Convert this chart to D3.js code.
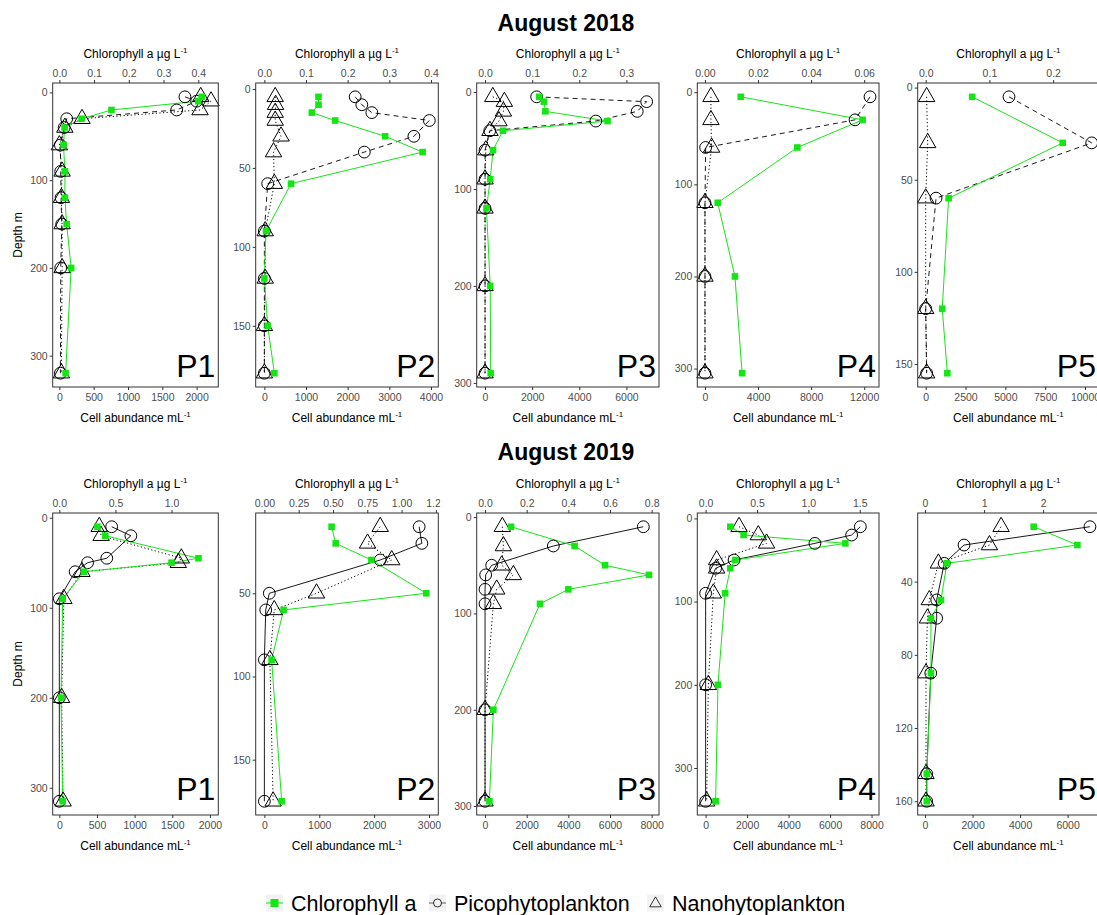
<!DOCTYPE html>
<html>
<head>
<meta charset="utf-8">
<script src="https://cdn.jsdelivr.net/npm/d3@7"></script>
<style>
  body { margin: 0; background: #fff; }
  text { font-family: "Liberation Sans", Arial, sans-serif; }
</style>
</head>
<body>
<div id="chart"></div>
<script>
// ---- August 2018 ----
const d18p1 = [5, 10, 20, 30, 40, 60, 90, 120, 150, 200, 320];
const chl18p1 = [0.41, 0.40, 0.15, 0.064, 0.015, 0.012, 0.016, 0.016, 0.021, 0.034, 0.018];
const pico18p1 = [1830, 2000, 1710, 107, 70, 15, 20, 25, 35, 20, 15];
const nano18p1 = [2060, 2210, 2050, 330, 80, 0, 40, 30, 40, 40, 30];

const d18p2 = [5, 10, 15, 20, 30, 40, 60, 90, 120, 150, 180];
const chl18p2 = [0.13, 0.13, 0.114, 0.17, 0.29, 0.38, 0.064, 0.004, 0.0, 0.008, 0.024];
const pico18p2 = [2180, 2340, 2580, 3960, 3590, 2400, 80, 0, 0, 0, 0];
const nano18p2 = [260, 270, 260, 260, 400, 220, 240, 20, 20, 0, 0];

const d18p3 = [5, 10, 20, 30, 40, 60, 90, 120, 200, 290];
const chl18p3 = [0.115, 0.125, 0.128, 0.26, 0.038, 0.017, 0.011, 0.003, 0.011, 0.012];
const pico18p3 = [2190, 6860, 6460, 4700, 200, 0, 0, 0, 0, 0];
const nano18p3 = [330, 820, 780, 590, 210, 30, 0, 0, 0, 0];

const d18p4 = [5, 30, 60, 120, 200, 305];
const chl18p4 = [0.0135, 0.0594, 0.0348, 0.0048, 0.0113, 0.014];
const pico18p4 = [12440, 11310, 50, 0, 0, 0];
const nano18p4 = [450, 450, 500, 0, 0, 0];

const d18p5 = [5, 30, 60, 120, 155];
const chl18p5 = [0.073, 0.215, 0.036, 0.026, 0.034];
const pico18p5 = [5230, 10420, 650, 0, 60];
const nano18p5 = [60, 125, 0, 0, 60];

// ---- August 2019 ----
const d19p1 = [10, 20, 45, 50, 60, 90, 200, 315];
const chl19p1 = [0.34, 0.41, 1.24, 1.0, 0.22, 0.03, 0.015, 0.03];
const pico19p1 = [695, 950, 630, 375, 210, 0, 0, 0];
const nano19p1 = [530, 555, 1620, 1580, 300, 60, 30, 50];

const d19p2 = [10, 20, 30, 50, 60, 90, 175];
const chl19p2 = [0.49, 0.52, 0.78, 1.18, 0.14, 0.053, 0.126];
const pico19p2 = [2820, 2870, 2110, 90, 25, 0, 0];
const nano19p2 = [2110, 1880, 2320, 950, 180, 100, 160];

const d19p3 = [10, 30, 50, 60, 75, 90, 200, 295];
const chl19p3 = [0.125, 0.43, 0.576, 0.787, 0.40, 0.264, 0.04, 0.021];
const pico19p3 = [7600, 3280, 320, 30, 0, 0, 0, 0];
const nano19p3 = [830, 880, 800, 1360, 560, 400, 0, 0];

const d19p4 = [10, 20, 30, 50, 60, 90, 200, 340];
const chl19p4 = [0.24, 0.37, 1.36, 0.29, 0.24, 0.19, 0.12, 0.097];
const pico19p4 = [7460, 7040, 5270, 1370, 480, 0, 0, 0];
const nano19p4 = [1610, 2540, 2940, 530, 530, 370, 130, 50];

const d19p5 = [10, 20, 30, 50, 60, 90, 145, 160];
const chl19p5 = [1.84, 2.58, 0.37, 0.27, 0.10, 0.10, 0.03, 0.03];
const pico19p5 = [6940, 1640, 810, 490, 490, 240, 70, 70];
const nano19p5 = [3200, 2710, 560, 180, 100, 40, 40, 40];

const legendLabels = ["Chlorophyll a", "Picophytoplankton", "Nanohytoplankton"];

const rows = [
  {
    title: "August 2018", titleY: 31, top: 83, bottom: 387, pBase: 377, picoDash: "5,4",
    panels: [
      { name: "P1", depth: d18p1, chl: chl18p1, pico: pico18p1, nano: nano18p1, k: 5060, cellDomain: [-97, 2316],
        cellTicks: [0, 500, 1000, 1500, 2000], chlTicks: [0, 0.1, 0.2, 0.3, 0.4], chlFmt: ".1f", depthTicks: [0, 100, 200, 300] },
      { name: "P2", depth: d18p2, chl: chl18p2, pico: pico18p2, nano: nano18p2, k: 10000, cellDomain: [-208, 4176],
        cellTicks: [0, 1000, 2000, 3000, 4000], chlTicks: [0, 0.1, 0.2, 0.3, 0.4], chlFmt: ".1f", depthTicks: [0, 50, 100, 150] },
      { name: "P3", depth: d18p3, chl: chl18p3, pico: pico18p3, nano: nano18p3, k: 20000, cellDomain: [-354, 7383],
        cellTicks: [0, 2000, 4000, 6000], chlTicks: [0, 0.1, 0.2, 0.3], chlFmt: ".1f", depthTicks: [0, 100, 200, 300] },
      { name: "P4", depth: d18p4, chl: chl18p4, pico: pico18p4, nano: nano18p4, k: 200000, cellDomain: [-578, 13116],
        cellTicks: [0, 4000, 8000, 12000], chlTicks: [0, 0.02, 0.04, 0.06], chlFmt: ".2f", depthTicks: [0, 100, 200, 300] },
      { name: "P5", depth: d18p5, chl: chl18p5, pico: pico18p5, nano: nano18p5, k: 40000, cellDomain: [-502, 10879],
        cellTicks: [0, 2500, 5000, 7500, 10000], chlTicks: [0, 0.1, 0.2], chlFmt: ".1f", depthTicks: [0, 50, 100, 150] }
    ]
  },
  {
    title: "August 2019", titleY: 460, top: 513, bottom: 815, pBase: 800, picoDash: null,
    panels: [
      { name: "P1", depth: d19p1, chl: chl19p1, pico: pico19p1, nano: nano19p1, k: 1490, cellDomain: [-88, 2111],
        cellTicks: [0, 500, 1000, 1500, 2000], chlTicks: [0, 0.5, 1.0], chlFmt: ".1f", depthTicks: [0, 100, 200, 300] },
      { name: "P2", depth: d19p2, chl: chl19p2, pico: pico19p2, nano: nano19p2, k: 2500, cellDomain: [-158, 3169],
        cellTicks: [0, 1000, 2000, 3000], chlTicks: [0, 0.25, 0.5, 0.75, 1.0, 1.25], chlFmt: ".2f", depthTicks: [50, 100, 150] },
      { name: "P3", depth: d19p3, chl: chl19p3, pico: pico19p3, nano: nano19p3, k: 10000, cellDomain: [-400, 8352],
        cellTicks: [0, 2000, 4000, 6000, 8000], chlTicks: [0, 0.2, 0.4, 0.6, 0.8], chlFmt: ".1f", depthTicks: [0, 100, 200, 300] },
      { name: "P4", depth: d19p4, chl: chl19p4, pico: pico19p4, nano: nano19p4, k: 4955, cellDomain: [-402, 8360],
        cellTicks: [0, 2000, 4000, 6000, 8000], chlTicks: [0, 0.5, 1.0, 1.5], chlFmt: ".1f", depthTicks: [0, 100, 200, 300] },
      { name: "P5", depth: d19p5, chl: chl19p5, pico: pico19p5, nano: nano19p5, k: 2485, cellDomain: [-309, 7321],
        cellTicks: [0, 2000, 4000, 6000], chlTicks: [0, 1, 2], chlFmt: "d", depthTicks: [40, 80, 120, 160] }
    ]
  }
];

const lefts = [52.7, 255.7, 476.7, 697.3, 917.7];
const rights = [218.3, 438.3, 659, 879, 1099];

const green = "#14e614";
const font = "'Liberation Sans', Arial, sans-serif";

const svg = d3.select("#chart")
    .append("svg")
    .attr("width", 1097)
    .attr("height", 915)
    .style("background", "#fff");

const defs = svg.append("defs");

const expand = ([a, b]) => { const m = (b - a) * 0.05; return [a - m, b + m]; };

// R pch 2 style triangle, centred on centroid
const triR = 6.1;
const triPath = `M0,${-triR * 1.555}L${triR * 1.347},${triR * 0.778}L${-triR * 1.347},${triR * 0.778}Z`;

function styleAxis(g) {
    g.select(".domain").remove();
    g.selectAll("line").attr("stroke", "#333");
    g.attr("font-family", font).attr("font-size", 10.5);
    g.selectAll("text").attr("fill", "#4d4d4d");
}

function supText(sel, main) {
    sel.append("tspan").text(main);
    sel.append("tspan").attr("dy", -5).attr("font-size", 8).text("-1");
}

rows.forEach((row, r) => {
    svg.append("text")
        .attr("x", 566).attr("y", row.titleY)
        .attr("text-anchor", "middle")
        .attr("font-size", 23).attr("font-weight", "bold")
        .text(row.title);

    row.panels.forEach((p, i) => {
        const left = lefts[i], right = rights[i];
        const data = p.depth.map((d, j) => ({ depth: d, chl: p.chl[j] * p.k, pico: p.pico[j], nano: p.nano[j] }));

        const x = d3.scaleLinear().domain(p.cellDomain).range([left, right]);
        const xChl = d3.scaleLinear().domain(p.cellDomain.map(v => v / p.k)).range([left, right]);
        const y = d3.scaleLinear()
            .domain(expand(d3.extent(p.depth)))
            .range([row.top, row.bottom]);

        // each plot cell hides what spills into its neighbour
        const clipId = `cell-${r}-${i}`;
        const cellLeft = i === 0 ? 0 : left - 36;
        defs.append("clipPath").attr("id", clipId)
            .append("rect").attr("x", cellLeft).attr("y", row.top - 45)
            .attr("width", right + 2 - cellLeft).attr("height", row.bottom - row.top + 90);

        const g = svg.append("g");

        // axes
        g.append("g").attr("transform", `translate(0,${row.bottom})`)
            .call(d3.axisBottom(x).tickValues(p.cellTicks).tickSize(3).tickPadding(4).tickFormat(d3.format("d")))
            .call(styleAxis);
        g.append("g").attr("clip-path", `url(#${clipId})`)
            .append("g").attr("transform", `translate(0,${row.top})`)
            .call(d3.axisTop(xChl).tickValues(p.chlTicks).tickSize(3).tickPadding(3).tickFormat(d3.format(p.chlFmt)))
            .call(styleAxis);
        g.append("g").attr("transform", `translate(${left},0)`)
            .call(d3.axisLeft(y).tickValues(p.depthTicks).tickSize(3).tickPadding(2))
            .call(styleAxis);

        // axis titles
        const cx = (left + right) / 2;
        g.append("text").attr("x", cx).attr("y", row.top - 25)
            .attr("text-anchor", "middle").attr("font-size", 12)
            .call(supText, "Chlorophyll a µg L");
        g.append("text").attr("x", cx).attr("y", row.bottom + 35)
            .attr("text-anchor", "middle").attr("font-size", 12)
            .call(supText, "Cell abundance mL");
        if (i === 0) {
            g.append("text")
                .attr("transform", `translate(22,${(row.top + row.bottom) / 2}) rotate(-90)`)
                .attr("text-anchor", "middle").attr("font-size", 12)
                .text("Depth m");
        }

        // lines
        const line = key => d3.line().x(d => x(d[key])).y(d => y(d.depth));
        g.append("path").datum(data).attr("d", line("pico"))
            .attr("fill", "none").attr("stroke", "#000").attr("stroke-width", 0.9)
            .attr("stroke-dasharray", row.picoDash);
        g.append("path").datum(data).attr("d", line("nano"))
            .attr("fill", "none").attr("stroke", "#000").attr("stroke-width", 1)
            .attr("stroke-dasharray", "1.2,2.4");
        g.append("path").datum(data).attr("d", line("chl"))
            .attr("fill", "none").attr("stroke", green).attr("stroke-width", 1);

        // points
        g.selectAll(".pico").data(data).join("circle")
            .attr("cx", d => x(d.pico)).attr("cy", d => y(d.depth)).attr("r", 5.9)
            .attr("fill", "none").attr("stroke", "#000").attr("stroke-width", 1);
        g.selectAll(".nano").data(data).join("path")
            .attr("d", triPath)
            .attr("transform", d => `translate(${x(d.nano)},${y(d.depth)})`)
            .attr("fill", "none").attr("stroke", "#000").attr("stroke-width", 1);
        g.selectAll(".chl").data(data).join("rect")
            .attr("x", d => x(d.chl) - 3.3).attr("y", d => y(d.depth) - 3.3)
            .attr("width", 6.6).attr("height", 6.6)
            .attr("fill", green);

        // panel border
        g.append("rect")
            .attr("x", left).attr("y", row.top)
            .attr("width", right - left).attr("height", row.bottom - row.top)
            .attr("fill", "none").attr("stroke", "#333").attr("stroke-width", 1);

        // station label
        g.append("text")
            .attr("x", right - 3).attr("y", row.pBase)
            .attr("text-anchor", "end").attr("font-size", 32)
            .text(p.name);
    });
});

// legend
const keyX = [266, 429, 647];
const leg = svg.append("g").attr("transform", "translate(0,903)");
legendLabels.forEach((label, i) => {
    const key = leg.append("g").attr("transform", `translate(${keyX[i]},0)`);
    key.append("rect").attr("x", 0).attr("y", -8.5).attr("width", 17).attr("height", 17).attr("fill", "#f2f2f2");
    if (i === 0) {
        key.append("line").attr("x1", 0).attr("x2", 17).attr("y1", 0).attr("y2", 0).attr("stroke", green).attr("stroke-width", 1);
        key.append("rect").attr("x", 4.5).attr("y", -4).attr("width", 8).attr("height", 8).attr("fill", green);
    } else if (i === 1) {
        key.append("line").attr("x1", 0).attr("x2", 17).attr("y1", 0).attr("y2", 0).attr("stroke", "#000").attr("stroke-width", 0.6);
        key.append("circle").attr("cx", 8.5).attr("cy", 0).attr("r", 4).attr("fill", "#f2f2f2").attr("stroke", "#000").attr("stroke-width", 0.8);
    } else {
        key.append("path").attr("transform", "translate(8.5,0.5) scale(0.7)").attr("d", triPath)
            .attr("fill", "none").attr("stroke", "#000").attr("stroke-width", 1.1);
    }
    key.append("text").attr("x", 25).attr("y", 7.5).attr("font-size", 21.5).text(label);
});
</script>
</body>
</html>
